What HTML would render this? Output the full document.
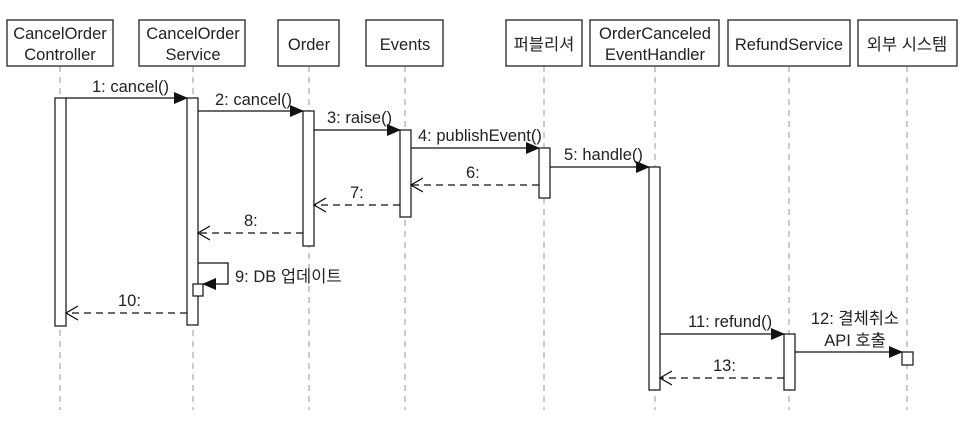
<!DOCTYPE html>
<html><head><meta charset="utf-8"><style>
html,body{margin:0;padding:0;background:#fff;}
svg{display:block;}
text{font-family:"Liberation Sans","Noto Sans CJK KR",sans-serif;font-size:16.5px;fill:#222;}
</style></head><body>
<svg width="966" height="426" viewBox="0 0 966 426" xmlns="http://www.w3.org/2000/svg">
<defs>
<marker id="f" markerWidth="14" markerHeight="12" refX="13" refY="6" orient="auto" markerUnits="userSpaceOnUse"><path d="M0,0 L14,6 L0,12 Z" fill="#111"/></marker>
<marker id="o" markerWidth="14" markerHeight="16" refX="12" refY="8" orient="auto" markerUnits="userSpaceOnUse"><path d="M0,1 L12,8 L0,15" fill="none" stroke="#111" stroke-width="1.3"/></marker>
</defs>
<g stroke="#999" stroke-width="1" stroke-dasharray="6,5">
<line x1="60" y1="66" x2="60" y2="410"/><line x1="193" y1="66" x2="193" y2="410"/>
<line x1="309" y1="66" x2="309" y2="410"/><line x1="405" y1="66" x2="405" y2="410"/>
<line x1="544" y1="66" x2="544" y2="410"/><line x1="655" y1="66" x2="655" y2="410"/>
<line x1="789" y1="66" x2="789" y2="410"/><line x1="907" y1="66" x2="907" y2="410"/>
</g>
<g fill="#fff" stroke="#222" stroke-width="1.3">
<rect x="7" y="20" width="106" height="46"/><rect x="139" y="20" width="106" height="46"/>
<rect x="278" y="20" width="61" height="46"/><rect x="366" y="20" width="77" height="46"/>
<rect x="506" y="20" width="76" height="46"/><rect x="590" y="20" width="129" height="46"/>
<rect x="728" y="20" width="122" height="46"/><rect x="858" y="20" width="99" height="46"/>
<rect x="55" y="98" width="11" height="228"/><rect x="187" y="98" width="11" height="227"/>
<rect x="303" y="111" width="11" height="135"/><rect x="400" y="130" width="11" height="87"/>
<rect x="539" y="148" width="11" height="50"/><rect x="649" y="167" width="11" height="223"/>
<rect x="784" y="334" width="11" height="56"/><rect x="902" y="352" width="11" height="13"/>
<rect x="193" y="284" width="10" height="12"/>
</g>
<g text-anchor="middle">
<text x="60" y="39">CancelOrder</text><text x="60" y="60">Controller</text>
<text x="193" y="39">CancelOrder</text><text x="193" y="60">Service</text>
<text x="309" y="50">Order</text><text x="405" y="50">Events</text>
<text x="544" y="50">퍼블리셔</text>
<text x="655" y="39">OrderCanceled</text><text x="655" y="60">EventHandler</text>
<text x="789" y="50">RefundService</text><text x="907" y="50">외부 시스템</text>
</g>
<g stroke="#111" stroke-width="1.3" fill="none">
<line x1="66" y1="98" x2="187" y2="98" marker-end="url(#f)"/>
<line x1="198" y1="111" x2="303" y2="111" marker-end="url(#f)"/>
<line x1="314" y1="130" x2="400" y2="130" marker-end="url(#f)"/>
<line x1="411" y1="148" x2="539" y2="148" marker-end="url(#f)"/>
<line x1="550" y1="167" x2="649" y2="167" marker-end="url(#f)"/>
<line x1="660" y1="334" x2="784" y2="334" marker-end="url(#f)"/>
<line x1="795" y1="352" x2="902" y2="352" marker-end="url(#f)"/>
<polyline points="198,263 228,263 228,284 203,284" marker-end="url(#f)"/>
<g stroke-dasharray="7,5">
<line x1="539" y1="185" x2="411" y2="185" marker-end="url(#o)"/>
<line x1="400" y1="205" x2="314" y2="205" marker-end="url(#o)"/>
<line x1="303" y1="233" x2="198" y2="233" marker-end="url(#o)"/>
<line x1="187" y1="313" x2="66" y2="313" marker-end="url(#o)"/>
<line x1="784" y1="378" x2="660" y2="378" marker-end="url(#o)"/>
</g>
</g>
<text x="92" y="92">1: cancel()</text>
<text x="215" y="105">2: cancel()</text>
<text x="327" y="123">3: raise()</text>
<text x="418" y="141">4: publishEvent()</text>
<text x="564" y="160">5: handle()</text>
<text x="466" y="178">6:</text>
<text x="350" y="198">7:</text>
<text x="244" y="226">8:</text>
<text x="235" y="282">9: DB 업데이트</text>
<text x="118" y="306">10:</text>
<text x="688" y="327">11: refund()</text>
<text x="855" y="324" text-anchor="middle">12: 결체취소</text>
<text x="855" y="346" text-anchor="middle">API 호출</text>
<text x="713" y="371">13:</text>
</svg>
</body></html>
